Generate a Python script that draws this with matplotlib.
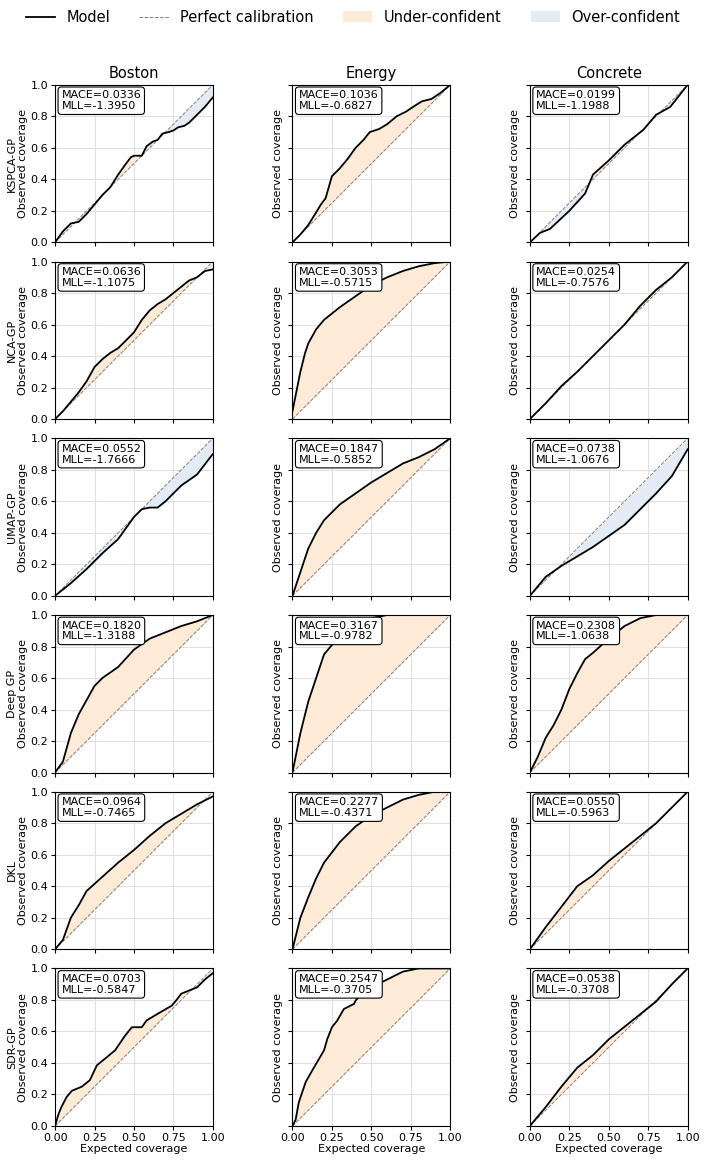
import numpy as np
import matplotlib.pyplot as plt
from matplotlib.lines import Line2D
from matplotlib.patches import Patch

datasets = ["Boston", "Energy", "Concrete"]
models = ["KSPCA-GP", "NCA-GP", "UMAP-GP", "Deep GP", "DKL", "SDR-GP"]

# MACE / MLL per (model, dataset)
mace = [[0.0336, 0.1036, 0.0199],
        [0.0636, 0.3053, 0.0254],
        [0.0552, 0.1847, 0.0738],
        [0.1820, 0.3167, 0.2308],
        [0.0964, 0.2277, 0.0550],
        [0.0703, 0.2547, 0.0538]]
mll = [[-1.3950, -0.6827, -1.1988],
       [-1.1075, -0.5715, -0.7576],
       [-1.7666, -0.5852, -1.0676],
       [-1.3188, -0.9782, -1.0638],
       [-0.7465, -0.4371, -0.5963],
       [-0.5847, -0.3705, -0.3708]]

# calibration curves: (expected, observed)
ksp_boston_x = [0, 0.05, 0.1, 0.15, 0.2, 0.25, 0.3, 0.35, 0.4, 0.45, 0.48, 0.5, 0.55, 0.58, 0.62, 0.65, 0.68, 0.72, 0.75, 0.78, 0.82, 0.85, 0.9, 0.95, 1.0]
ksp_boston_y = [0, 0.07, 0.12, 0.13, 0.18, 0.24, 0.3, 0.35, 0.43, 0.5, 0.54, 0.55, 0.55, 0.61, 0.64, 0.65, 0.69, 0.70, 0.71, 0.73, 0.74, 0.76, 0.81, 0.86, 0.92]
ksp_energy_x = [0, 0.05, 0.1, 0.15, 0.18, 0.21, 0.23, 0.25, 0.3, 0.35, 0.4, 0.45, 0.49, 0.55, 0.6, 0.66, 0.72, 0.78, 0.82, 0.88, 0.94, 1.0]
ksp_energy_y = [0, 0.05, 0.11, 0.19, 0.24, 0.28, 0.35, 0.42, 0.47, 0.53, 0.6, 0.65, 0.70, 0.72, 0.75, 0.8, 0.83, 0.87, 0.895, 0.91, 0.95, 1.0]
ksp_concrete_x = [0, 0.064, 0.127, 0.25, 0.35, 0.40, 0.5, 0.6, 0.72, 0.8, 0.89, 1.0]
ksp_concrete_y = [0, 0.06, 0.085, 0.2, 0.31, 0.43, 0.52, 0.62, 0.715, 0.81, 0.86, 1.0]

nca_boston_x = [0, 0.05, 0.1, 0.15, 0.2, 0.25, 0.3, 0.35, 0.4, 0.45, 0.5, 0.55, 0.6, 0.65, 0.7, 0.75, 0.8, 0.85, 0.9, 0.95, 1.0]
nca_boston_y = [0, 0.05, 0.11, 0.17, 0.24, 0.33, 0.38, 0.42, 0.45, 0.5, 0.55, 0.63, 0.69, 0.73, 0.76, 0.8, 0.84, 0.88, 0.9, 0.94, 0.95]
nca_energy_x = [0, 0.02, 0.05, 0.08, 0.1, 0.15, 0.2, 0.25, 0.3, 0.4, 0.5, 0.6, 0.7, 0.8, 0.9, 1.0]
nca_energy_y = [0.05, 0.15, 0.3, 0.42, 0.48, 0.57, 0.63, 0.67, 0.71, 0.78, 0.85, 0.9, 0.94, 0.97, 0.99, 1.0]
nca_concrete_x = [0, 0.1, 0.2, 0.3, 0.4, 0.5, 0.6, 0.7, 0.8, 0.9, 1.0]
nca_concrete_y = [0, 0.1, 0.21, 0.3, 0.4, 0.5, 0.6, 0.72, 0.82, 0.9, 1.0]

umap_boston_x = [0, 0.1, 0.2, 0.3, 0.4, 0.5, 0.55, 0.6, 0.65, 0.7, 0.8, 0.9, 1.0]
umap_boston_y = [0, 0.08, 0.17, 0.27, 0.36, 0.5, 0.55, 0.56, 0.56, 0.6, 0.7, 0.77, 0.9]
umap_energy_x = [0, 0.05, 0.1, 0.15, 0.2, 0.3, 0.4, 0.5, 0.6, 0.7, 0.8, 0.9, 1.0]
umap_energy_y = [0, 0.15, 0.3, 0.4, 0.48, 0.58, 0.65, 0.72, 0.78, 0.84, 0.88, 0.93, 1.0]
umap_concrete_x = [0, 0.1, 0.2, 0.3, 0.4, 0.5, 0.6, 0.7, 0.8, 0.9, 1.0]
umap_concrete_y = [0, 0.12, 0.19, 0.25, 0.31, 0.38, 0.45, 0.55, 0.65, 0.76, 0.93]

dgp_boston_x = [0, 0.05, 0.1, 0.15, 0.2, 0.25, 0.3, 0.4, 0.5, 0.6, 0.7, 0.8, 0.9, 1.0]
dgp_boston_y = [0, 0.07, 0.25, 0.37, 0.46, 0.55, 0.6, 0.67, 0.78, 0.85, 0.89, 0.93, 0.96, 1.0]
dgp_energy_x = [0, 0.05, 0.1, 0.15, 0.2, 0.3, 0.4, 0.5, 0.6, 1.0]
dgp_energy_y = [0, 0.25, 0.45, 0.6, 0.75, 0.87, 0.93, 0.98, 1.0, 1.0]
dgp_concrete_x = [0, 0.05, 0.1, 0.15, 0.2, 0.25, 0.3, 0.35, 0.4, 0.5, 0.6, 0.7, 0.8, 1.0]
dgp_concrete_y = [0, 0.1, 0.22, 0.3, 0.4, 0.53, 0.63, 0.72, 0.76, 0.85, 0.93, 0.98, 1.0, 1.0]

dkl_boston_x = [0, 0.05, 0.1, 0.15, 0.2, 0.3, 0.4, 0.5, 0.6, 0.7, 0.8, 0.9, 1.0]
dkl_boston_y = [0, 0.06, 0.2, 0.28, 0.37, 0.46, 0.55, 0.63, 0.72, 0.8, 0.86, 0.92, 0.97]
dkl_energy_x = [0, 0.05, 0.1, 0.15, 0.2, 0.3, 0.4, 0.5, 0.6, 0.7, 0.8, 0.9, 1.0]
dkl_energy_y = [0, 0.2, 0.33, 0.45, 0.55, 0.68, 0.78, 0.85, 0.9, 0.95, 0.98, 1.0, 1.0]
dkl_concrete_x = [0, 0.1, 0.2, 0.3, 0.4, 0.5, 0.6, 0.7, 0.8, 0.9, 1.0]
dkl_concrete_y = [0, 0.14, 0.27, 0.4, 0.47, 0.56, 0.64, 0.72, 0.8, 0.9, 1.0]

sdr_boston_x = [0, 0.02, 0.04, 0.074, 0.106, 0.17, 0.22, 0.265, 0.32, 0.38, 0.445, 0.487, 0.55, 0.58, 0.667, 0.74, 0.77, 0.8, 0.9, 0.95, 1.0]
sdr_boston_y = [0, 0.07, 0.12, 0.185, 0.223, 0.25, 0.29, 0.385, 0.43, 0.48, 0.575, 0.627, 0.627, 0.67, 0.722, 0.764, 0.8, 0.84, 0.88, 0.93, 0.97]
sdr_energy_x = [0, 0.02, 0.04, 0.084, 0.126, 0.2, 0.22, 0.25, 0.284, 0.326, 0.39, 0.4, 0.45, 0.5, 0.6, 0.7, 0.8, 1.0]
sdr_energy_y = [0, 0.04, 0.15, 0.28, 0.354, 0.48, 0.55, 0.627, 0.67, 0.743, 0.775, 0.796, 0.85, 0.88, 0.93, 0.98, 1.0, 1.0]
sdr_concrete_x = [0, 0.1, 0.2, 0.3, 0.4, 0.5, 0.6, 0.7, 0.8, 0.9, 1.0]
sdr_concrete_y = [0, 0.12, 0.25, 0.37, 0.45, 0.55, 0.63, 0.71, 0.79, 0.9, 1.0]

curves = [
    [(ksp_boston_x, ksp_boston_y), (ksp_energy_x, ksp_energy_y), (ksp_concrete_x, ksp_concrete_y)],
    [(nca_boston_x, nca_boston_y), (nca_energy_x, nca_energy_y), (nca_concrete_x, nca_concrete_y)],
    [(umap_boston_x, umap_boston_y), (umap_energy_x, umap_energy_y), (umap_concrete_x, umap_concrete_y)],
    [(dgp_boston_x, dgp_boston_y), (dgp_energy_x, dgp_energy_y), (dgp_concrete_x, dgp_concrete_y)],
    [(dkl_boston_x, dkl_boston_y), (dkl_energy_x, dkl_energy_y), (dkl_concrete_x, dkl_concrete_y)],
    [(sdr_boston_x, sdr_boston_y), (sdr_energy_x, sdr_energy_y), (sdr_concrete_x, sdr_concrete_y)],
]

under_color = "#fdebd7"
over_color = "#e3ecf5"

fig, axes = plt.subplots(6, 3, figsize=(7.06, 11.62), dpi=100, sharex=True, sharey=True)
fig.subplots_adjust(left=0.078, right=0.974, top=0.927, bottom=0.031, wspace=0.505, hspace=0.122)

for i, model in enumerate(models):
    for j, ds in enumerate(datasets):
        ax = axes[i, j]
        x = np.array(curves[i][j][0])
        y = np.array(curves[i][j][1])
        ax.grid(True, color="#e0e0e0", linewidth=0.8)
        ax.set_axisbelow(True)
        ax.plot([0, 1], [0, 1], "--", color="gray", linewidth=0.7)
        ax.fill_between(x, y, x, where=y >= x, interpolate=True, color=under_color, linewidth=0)
        ax.fill_between(x, y, x, where=y < x, interpolate=True, color=over_color, linewidth=0)
        ax.plot(x, y, color="black", linewidth=1.3)
        ax.set_xlim(0, 1)
        ax.set_ylim(0, 1)
        ax.set_xticks([0, 0.25, 0.5, 0.75, 1.0])
        ax.set_yticks([0, 0.2, 0.4, 0.6, 0.8, 1.0])
        ax.tick_params(labelsize=8, length=3, pad=2)
        ax.text(0.04, 0.965, f"MACE={mace[i][j]:.4f}\nMLL={mll[i][j]:.4f}", transform=ax.transAxes,
                va="top", ha="left", fontsize=8, linespacing=1.1,
                bbox=dict(boxstyle="round,pad=0.3", fc="white", ec="black", lw=0.8))
        if j == 0:
            ax.set_ylabel(f"{model}\nObserved coverage", fontsize=8, labelpad=2, linespacing=1.1)
        else:
            ax.set_ylabel("Observed coverage", fontsize=8, labelpad=4)
            ax.tick_params(labelleft=False)
        if i == 0:
            ax.set_title(ds, fontsize=10.5, pad=5)
        if i == len(models) - 1:
            ax.set_xlabel("Expected coverage", fontsize=8, labelpad=1)
        ax.set_xticklabels(["0.00", "0.25", "0.50", "0.75", "1.00"])

handles = [Line2D([0], [0], color="black", linewidth=1.3),
           Line2D([0], [0], color="gray", linestyle="--", linewidth=0.7),
           Patch(facecolor=under_color),
           Patch(facecolor=over_color)]
labels = ["Model", "Perfect calibration", "Under-confident", "Over-confident"]
fig.legend(handles, labels, loc="upper center", ncol=4, frameon=False, fontsize=10.5,
           bbox_to_anchor=(0.5, 1.003), columnspacing=2.0)

fig.savefig("out.png", dpi=100)
